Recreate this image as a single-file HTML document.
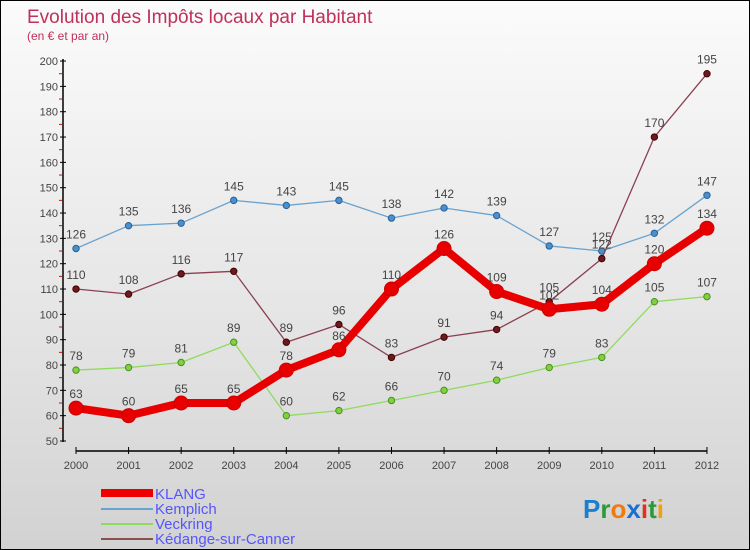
<!DOCTYPE html>
<html><head><meta charset="utf-8"><style>
body{margin:0}
#c{position:relative;width:748px;height:548px;border:1px solid #000;background:linear-gradient(#fbfbfb,#e4e4e4 60%,#d2d2d2);overflow:hidden;font-family:"Liberation Sans",sans-serif}
</style></head><body>
<div id="c">
<svg id="s" width="748" height="548" xmlns="http://www.w3.org/2000/svg">
<text x="26" y="22" font-size="19" fill="#c0305a">Evolution des Impôts locaux par Habitant</text>
<text x="26" y="39" font-size="12" fill="#c0305a">(en € et par an)</text>
<g id="axes"></g><g id="series"></g>
<g>
<rect x="100" y="488" width="52" height="8" fill="#e00"/>
<text x="154" y="498" font-size="15" fill="#55f">KLANG</text>
<rect x="100" y="507" width="52" height="2" fill="#6aa3d0"/>
<text x="154" y="513" font-size="15" fill="#55f">Kemplich</text>
<rect x="100" y="522" width="52" height="2" fill="#8fdb5f"/>
<text x="154" y="528" font-size="15" fill="#55f">Veckring</text>
<rect x="100" y="537" width="52" height="2" fill="#8a5050"/>
<text x="154" y="543" font-size="15" fill="#55f">Kédange-sur-Canner</text>
</g>
<text x="582" y="517" font-size="26" font-weight="bold"><tspan fill="#1a7fd0">P</tspan><tspan fill="#2a9a3a">r</tspan><tspan fill="#f07a10">o</tspan><tspan fill="#1a6fd0">x</tspan><tspan fill="#e03020">i</tspan><tspan fill="#2a9a3a">t</tspan><tspan fill="#f0a010">i</tspan></text>
</svg></div>
<script>
const years=[2000,2001,2002,2003,2004,2005,2006,2007,2008,2009,2010,2011,2012];
const klang=[63,60,65,65,78,86,110,126,109,102,104,120,134];
const kemplich=[126,135,136,145,143,145,138,142,139,127,125,132,147];
const veckring=[78,79,81,89,60,62,66,70,74,79,83,105,107];
const kedange=[110,108,116,117,89,96,83,91,94,105,122,170,195];
const yTicks=[50,60,70,80,90,100,110,120,130,140,150,160,170,180,190,200];
const NS="http://www.w3.org/2000/svg";
const xs=i=>75+i*52.58, ys=v=>440-(v-50)*2.533;
function mk(t,a,p){const e=document.createElementNS(NS,t);for(const k in a)e.setAttribute(k,a[k]);p.appendChild(e);return e;}
const ax=document.getElementById('axes');
let l=mk('line',{x1:62,y1:58,x2:62,y2:441,stroke:'#000','stroke-width':1.5},ax);

l=mk('line',{x1:75,y1:450,x2:706,y2:450,stroke:'#000','stroke-width':1.5},ax);

yTicks.forEach(v=>{const y=ys(v);
 mk('line',{x1:59,y1:y,x2:65,y2:y,stroke:'#000'},ax);
 if(v<200)mk('line',{x1:58,y1:y-12.67,x2:61,y2:y-12.67,stroke:'#e00'},ax);
 const t=mk('text',{x:57,y:y+4,'font-size':11,'text-anchor':'end',fill:'#444'},ax);t.textContent=v;
 });
years.forEach((yr,i)=>{const x=xs(i);
 mk('line',{x1:x,y1:446,x2:x,y2:453,stroke:'#000'},ax);
 const t=mk('text',{x:x,y:468,'font-size':11,'text-anchor':'middle',fill:'#444'},ax);t.textContent=yr;
 });
const sg=document.getElementById('series');
function draw(name,data,color,w,r,fill,stroke){
 const g=mk('g',{},sg);
 
 const p=mk('polyline',{points:data.map((v,i)=>xs(i)+','+ys(v)).join(' '),fill:'none',stroke:color,'stroke-width':w,'stroke-linejoin':'round'},g);
 
 data.forEach((v,i)=>{const c=mk('circle',{cx:xs(i),cy:ys(v),r:r,fill:fill,stroke:stroke,'stroke-width':1},g);
  
  const t=mk('text',{x:xs(i),y:ys(v)-10,'font-size':12,'text-anchor':'middle',fill:'#444'},g);t.textContent=v;
  });
}
draw('kemplich',kemplich,'#6aa3d0',1.3,3.2,'#4a90d0','#2a6090');
draw('veckring',veckring,'#8fdb5f',1.3,3.2,'#80d040','#4a9020');
draw('kedange',kedange,'#8a4050',1.3,3.2,'#6a1a20','#400');
draw('klang',klang,'#e80000',8,7,'#e80000','#c00');
</script>
</body></html>
